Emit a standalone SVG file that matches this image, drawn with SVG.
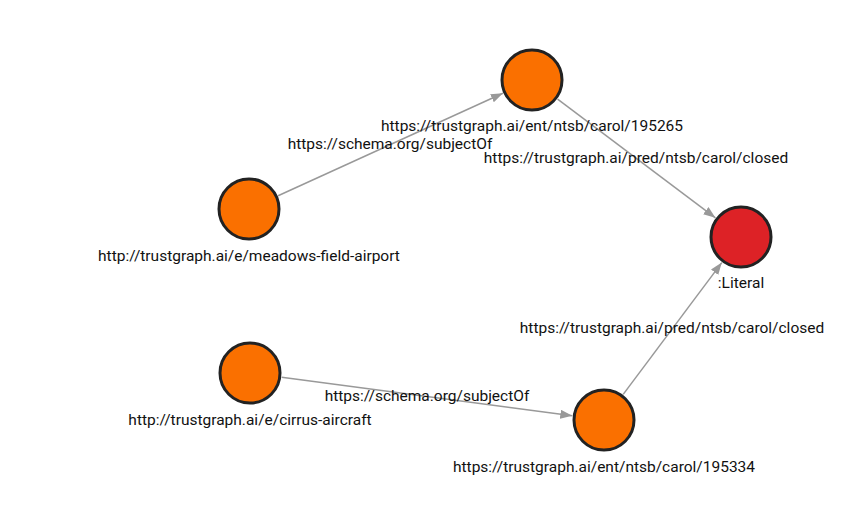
<svg xmlns="http://www.w3.org/2000/svg" width="857" height="528" viewBox="0 0 857 528">
<style>
  .edge { stroke: #999; stroke-width: 1.5; fill: none; }
  .node { stroke: #222; stroke-width: 3; }
  .ent { fill: #fa7000; }
  .lit { fill: #dd2226; }
  text { font-family: Roboto, "Liberation Sans", sans-serif; font-size: 15.5px; fill: #111; text-anchor: middle; }
</style>
<defs>
  <marker id="arrow" markerUnits="userSpaceOnUse" markerWidth="13" markerHeight="10" refX="12" refY="4.5" orient="auto">
    <path d="M0,0 L12,4.5 L0,9 z" fill="#999"/>
  </marker>
</defs>
<rect width="857" height="528" fill="#ffffff"/>
<g id="connectors">
  <line class="edge" x1="278.1" y1="195.7" x2="502.9" y2="93.3" marker-end="url(#arrow)"/>
  <line class="edge" x1="557.6" y1="99.2" x2="715.4" y2="217.8" marker-end="url(#arrow)"/>
  <line class="edge" x1="281.7" y1="377.2" x2="572.3" y2="415.8" marker-end="url(#arrow)"/>
  <line class="edge" x1="623.2" y1="394.4" x2="721.8" y2="262.6" marker-end="url(#arrow)"/>
  <text x="390" y="149">https://schema.org/subjectOf</text>
  <text x="636" y="163">https://trustgraph.ai/pred/ntsb/carol/closed</text>
  <text x="427" y="401">https://schema.org/subjectOf</text>
  <text x="672" y="333">https://trustgraph.ai/pred/ntsb/carol/closed</text>
</g>
<g id="node-195265">
  <circle class="node ent" cx="532" cy="80" r="30"/>
  <text x="532" y="131">https://trustgraph.ai/ent/ntsb/carol/195265</text>
</g>
<g id="node-meadows">
  <circle class="node ent" cx="249" cy="209" r="30"/>
  <text x="249" y="261">http://trustgraph.ai/e/meadows-field-airport</text>
</g>
<g id="node-literal">
  <circle class="node lit" cx="741" cy="237" r="30"/>
  <text x="741" y="288">:Literal</text>
</g>
<g id="node-cirrus">
  <circle class="node ent" cx="250" cy="373" r="30"/>
  <text x="250" y="425">http://trustgraph.ai/e/cirrus-aircraft</text>
</g>
<g id="node-195334">
  <circle class="node ent" cx="604" cy="420" r="30"/>
  <text x="604" y="472">https://trustgraph.ai/ent/ntsb/carol/195334</text>
</g>
</svg>
